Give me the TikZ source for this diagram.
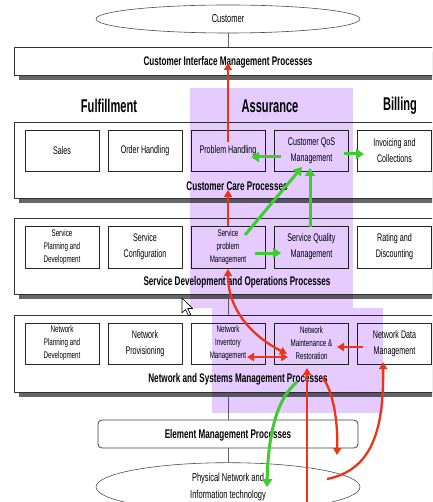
\documentclass[tikz,border=0pt]{standalone}
\usepackage{fontspec}
\newfontfamily\nf[FakeStretch=0.65]{Liberation Sans}
\newfontfamily\hf[FakeStretch=0.6]{Liberation Sans}
\usetikzlibrary{arrows.meta,shadows,shapes.geometric}

\definecolor{assure}{RGB}{229,203,255}
\definecolor{flowred}{RGB}{236,52,22}
\definecolor{flowgreen}{RGB}{62,205,48}

\pgfdeclarelayer{background}
\pgfsetlayers{background,main}

\begin{document}
\begin{tikzpicture}[x=1pt,y=-1pt,
  layerbox/.style={draw=black!80, line width=0.8pt, fill=white, minimum width=426pt, inner sep=0pt,
    drop shadow={shadow xshift=5pt,shadow yshift=-5pt,fill=black!60,opacity=1}},
  proc/.style={draw=black!85, line width=0.8pt, fill=white, minimum width=74pt, minimum height=41pt,
    inner sep=1pt, align=center, font=\nf\fontsize{11}{16}\selectfont},
  smalltext/.style={font=\nf\fontsize{9.6}{13}\selectfont},
  title/.style={font=\nf\bfseries\fontsize{12.5}{14}\selectfont},
  heading/.style={font=\hf\bfseries\fontsize{18.5}{22}\selectfont},
  cloud/.style={ellipse, draw=black!70, line width=0.6pt, fill=white, minimum width=264pt,
    align=center, font=\nf\fontsize{11.5}{17}\selectfont},
  redflow/.style={draw=flowred, line width=2.3pt, -{Triangle[width=8pt,length=7pt]}},
  redboth/.style={draw=flowred, line width=2.3pt, {Triangle[width=8pt,length=7pt]}-{Triangle[width=8pt,length=7pt]}},
  greenflow/.style={draw=flowgreen, line width=3pt, -{Triangle[width=10pt,length=8pt]}},
]
\useasboundingbox (0,0) rectangle (432,502);
\clip (0,0) rectangle (432,502);

% customer and infrastructure ends
\node[cloud, minimum height=28pt] (cust) at (228,19) {Customer};
\node[cloud, minimum height=38pt] (phys) at (228,487) {Physical Network and\\Information technology};

% management layers
\node[layerbox, minimum height=28pt] (cim) at (227,61) {};
\node[layerbox, minimum height=76pt] (ccp) at (227,160) {};
\node[layerbox, minimum height=76pt] (sdo) at (227,256) {};
\node[layerbox, minimum height=77pt] (nsm) at (227,353.5) {};
\node[draw=black!75, line width=0.8pt, fill=white, rounded corners=4pt,
      minimum width=260pt, minimum height=28pt] (emp) at (228,434) {};

% vertical backbone between the layers
\begin{pgfonlayer}{background}
  \draw[black!60, line width=0.6pt] (cust.south) -- (phys.north);
\end{pgfonlayer}

\node[title] (cimlabel) at (228,62) {Customer Interface Management Processes};
\node[title] (ccplabel) at (237,186) {Customer Care Processes};
\node[title] (sdolabel) at (237,282) {Service Development and Operations Processes};
\node[title] (nsmlabel) at (238,379) {Network and Systems Management Processes};
\node[title] (emplabel) at (228,435) {Element Management Processes};

% process groupings
\node[heading] (fulfil) at (109,106) {Fulfillment};
\node[heading] (assur) at (270,106) {Assurance};
\node[heading] (bill) at (400,106) {Billing};

% customer care row
\node[proc] (sales) at (62,150.5) {Sales};
\node[proc] (order) at (145,150.5) {Order Handling};
\node[proc] (probh) at (228,150.5) {Problem Handling};
\node[proc] (qos) at (311.5,150.5) {Customer QoS\\Management};
\node[proc] (invoice) at (394.5,150.5) {Invoicing and\\Collections};

% service development row
\node[proc, minimum height=42pt, smalltext] (splan) at (62,247) {Service\\Planning and\\Development};
\node[proc, minimum height=42pt] (sconf) at (145,247) {Service\\Configuration};
\node[proc, minimum height=42pt, smalltext] (sprob) at (228,247) {Service\\problem\\Management};
\node[proc, minimum height=42pt] (squal) at (311.5,247) {Service Quality\\Management};
\node[proc, minimum height=42pt] (rating) at (394.5,247) {Rating and\\Discounting};

% network row
\node[proc, smalltext] (nplan) at (62,343.5) {Network\\Planning and\\Development};
\node[proc] (nprov) at (145,343.5) {Network\\Provisioning};
\node[proc, smalltext] (ninv) at (228,343.5) {Network\\Inventory\\Management};
\node[proc, smalltext] (nmaint) at (311.5,343.5) {Network\\Maintenance \&\\Restoration};
\node[proc] (ndata) at (394.5,343.5) {Network Data\\Management};

% assurance highlight, tinting whatever lies beneath it
\fill[assure, blend mode=multiply] (190,88) rectangle (353,308);
\fill[assure, blend mode=multiply] (212,308) rectangle (383,413);

% flow end points
\coordinate (r1s) at (228,142);
\coordinate (r1e) at (228,63);
\coordinate (r2e) at (228,190);
\coordinate (r3s) at (228,269);
\coordinate (r3e) at (287,354);
\coordinate (r4s) at (247,357);
\coordinate (r4e) at (288,357);
\coordinate (r5s) at (363,347);
\coordinate (r5e) at (337,347);
\coordinate (r6s) at (307,502);
\coordinate (r6e) at (307,368);
\coordinate (r7s) at (323,378);
\coordinate (r7e) at (337,455);
\coordinate (r8s) at (327,479);
\coordinate (r8e) at (383,362);
\coordinate (g1s) at (281,157);
\coordinate (g1e) at (251,157);
\coordinate (g2s) at (344,154);
\coordinate (g2e) at (364,154);
\coordinate (g3s) at (245,235);
\coordinate (g3e) at (302,167);
\coordinate (g4s) at (310,227);
\coordinate (g4e) at (310,168);
\coordinate (g5s) at (255,253);
\coordinate (g5e) at (281,253);
\coordinate (g6s) at (297,382);
\coordinate (g6e) at (267,487);

% trouble flows
\draw[redflow] (r1s) -- (r1e);
\draw[redflow] (sprob.north) -- (r2e);
\draw[redboth] (r3s) .. controls (228,310) and (252,336) .. (r3e);
\draw[redboth] (r4s) -- (r4e);
\draw[redflow] (r5s) -- (r5e);
\draw[redflow] (r6s) -- (r6e);
\draw[redflow] (r7s) .. controls (333,392) and (338,420) .. (r7e);
\draw[redflow] (r8s) .. controls (372,470) and (384,430) .. (r8e);

% quality flows
\draw[greenflow] (g1s) -- (g1e);
\draw[greenflow] (g2s) -- (g2e);
\draw[greenflow] (g3s) -- (g3e);
\draw[greenflow] (g4s) -- (g4e);
\draw[greenflow] (g5s) -- (g5e);
\draw[greenflow] (g6s) .. controls (275,400) and (268,440) .. (g6e);

% mouse pointer
\draw[fill=white, line width=0.6pt, line join=round]
  (182,298) -- ++(0,15) -- ++(3.5,-3.5) -- ++(3,6) -- ++(2.2,-1) -- ++(-3,-6) -- ++(5,0) -- cycle;
\end{tikzpicture}
\end{document}
